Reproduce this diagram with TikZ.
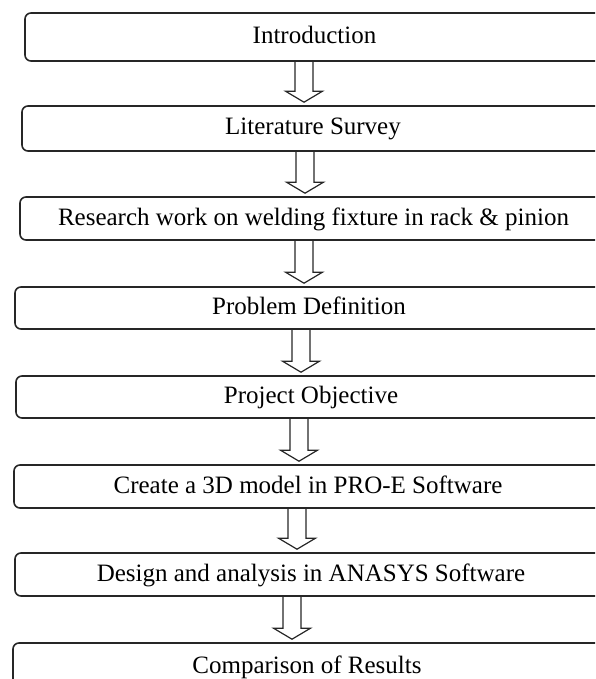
\documentclass[tikz,border=0pt]{standalone}
\usepackage{fontspec}
\setmainfont{Liberation Serif}
\usetikzlibrary{calc}

\tikzset{
  stage/.style={draw=black!85, line width=1.6pt, rounded corners=6pt,
    font=\fontsize{25}{30}\selectfont, text height=16pt, text depth=3pt,
    inner sep=0pt, anchor=center},
  flow/.style={draw=black!85, line width=1.2pt, line join=miter},
}

% hollow block arrow from the bottom of one stage to the top of the next, at x = #3
\newcommand\flowarrow[3]{%
  \draw[flow] let \p1=(#1.south), \p2=(#2.north) in
    (#3pt-9pt,\y1) -- (#3pt-9pt,\y2+14pt) -- (#3pt-18.5pt,\y2+14pt)
    -- (#3pt,\y2+3pt) -- (#3pt+18.5pt,\y2+14pt) -- (#3pt+9pt,\y2+14pt)
    -- (#3pt+9pt,\y1);}

\begin{document}
\begin{tikzpicture}[x=1pt,y=-1pt]
  \useasboundingbox (0,0) rectangle (595,679);
  \clip (0,0) rectangle (595,679);

  \node[stage, minimum width=579, minimum height=48] (s1) at (314.5,37)    {Introduction};
  \node[stage, minimum width=582, minimum height=45] (s2) at (313,128.5)   {Literature Survey};
  \node[stage, minimum width=587, minimum height=43] (s3) at (313.5,218.5) {Research work on welding fixture in rack \& pinion};
  \node[stage, minimum width=588, minimum height=42] (s4) at (309,308)     {Problem Definition};
  \node[stage, minimum width=590, minimum height=42] (s5) at (311,397)     {Project Objective};
  \node[stage, minimum width=588, minimum height=43] (s6) at (308,486.5)   {Create a 3D model in PRO-E Software};
  \node[stage, minimum width=592, minimum height=43] (s7) at (311,574.5)   {Design and analysis in ANASYS Software};
  \node[stage, minimum width=588, minimum height=48] (s8) at (307,667)     {Comparison of Results};

  \flowarrow{s1}{s2}{304}
  \flowarrow{s2}{s3}{305}
  \flowarrow{s3}{s4}{304}
  \flowarrow{s4}{s5}{301}
  \flowarrow{s5}{s6}{299}
  \flowarrow{s6}{s7}{297}
  \flowarrow{s7}{s8}{292}
\end{tikzpicture}
\end{document}
